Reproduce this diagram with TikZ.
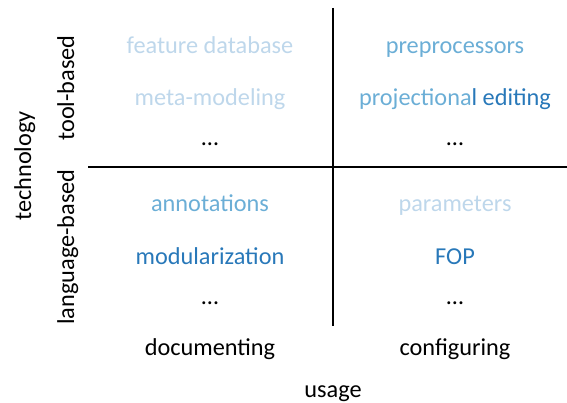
\documentclass[tikz,border=0pt]{standalone}
\usepackage{fontspec}
\setmainfont{Carlito}
\usepackage{tikz}
\usetikzlibrary{positioning}
\definecolor{bluelight}{RGB}{190,215,235}
\definecolor{bluemid}{RGB}{107,174,214}
\definecolor{bluedark}{RGB}{40,120,185}
\tikzstyle{entry} = [inner sep=0pt, text height=20pt, text depth=2pt, font=\fontsize{24.3}{28}\selectfont]
\tikzstyle{axis} = [line width=1.6pt]

\begin{document}
\begin{tikzpicture}[x=1pt, y=-1pt]
    \useasboundingbox (0,0) rectangle (567,403);
    % quadrant borders
    \coordinate (vtop) at (333,8);
    \coordinate (vbot) at (333,326);
    \coordinate (hleft) at (88,167);
    \coordinate (hright) at (567,167);
    \draw[axis] (vtop) -- (vbot);
    \draw[axis] (hleft) -- (hright);
    % tool-based
    \node[entry, bluelight] (featdb) at (210,45) {feature database};
    \node[entry, bluelight] (meta) at (210,97) {meta-modeling};
    \node[entry] (tooldoc) at (210,137) {\dots};
    \node[entry, bluemid] (prepro) at (455,45) {preprocessors};
    \node[entry, bluemid] (projed) at (455,97) {projectiona\textcolor{bluedark}{l editing}};
    \node[entry] (toolconf) at (455,137) {\dots};
    % language-based
    \node[entry, bluemid] (annot) at (210,203) {annotations};
    \node[entry, bluedark] (modul) at (210,255) {modularization};
    \node[entry] (langdoc) at (210,295) {\dots};
    \node[entry, bluelight] (params) at (455,203) {parameters};
    \node[entry, bluedark] (fop) at (455,255) {FOP};
    \node[entry] (langconf) at (455,295) {\dots};
    % axis labels
    \node[entry] (documenting) at (210,346) {documenting};
    \node[entry] (configuring) at (455,346) {configuring};
    \node[entry] (usage) at (333,388) {usage};
    \node[entry, rotate=90] (toolbased) at (65,88) {tool-based};
    \node[entry, rotate=90] (langbased) at (65,247) {language-based};
    \node[entry, rotate=90] (technology) at (22,166) {technology};
\end{tikzpicture}
\end{document}
